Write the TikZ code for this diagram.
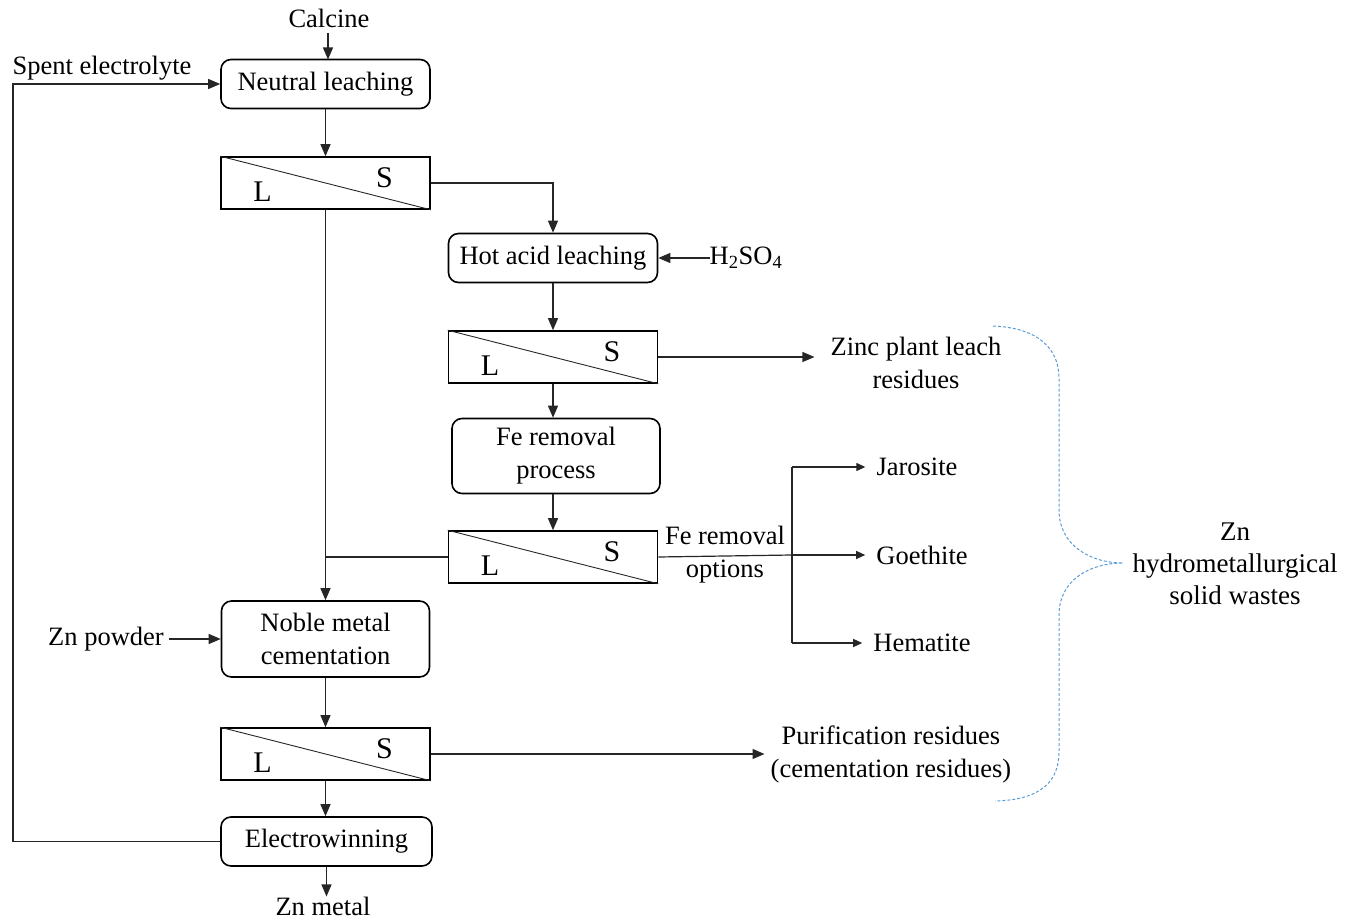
\documentclass[tikz,border=0pt]{standalone}
\usepackage{fontspec}
\setmainfont{Liberation Serif}
\usetikzlibrary{arrows.meta}
\definecolor{bracec}{RGB}{91,155,213}
\begin{document}
\begin{tikzpicture}[x=1pt,y=-1pt,
  font=\fontsize{26.5}{33}\selectfont,
  proc/.style={draw=black, line width=1.6pt, rounded corners=10pt,
    minimum width=209pt, minimum height=49pt, inner sep=0pt, align=center},
  sepbox/.style={draw=black, line width=1.6pt, minimum width=209pt,
    minimum height=52pt, inner sep=0pt},
  lbl/.style={inner sep=0pt, align=center},
  lsl/.style={inner sep=0pt, font=\fontsize{30}{33}\selectfont},
  conn/.style={line width=1.2pt, draw=black!85},
  arr/.style={conn, -{Triangle[length=12pt,width=10pt]}},
  sarr/.style={conn, -{Triangle[length=9pt,width=8pt]}},
  diag/.style={line width=0.9pt, draw=black!85}
]
\useasboundingbox (0,0) rectangle (1353,920);

% process boxes
\node[proc] (nl) at (325.5,84) {Neutral leaching};
\node[proc] (hot) at (553,258) {Hot acid leaching};
\node[proc, minimum width=208pt, minimum height=75pt] (fe) at (556,456) {Fe removal\\process};
\node[proc, minimum width=208pt, minimum height=76pt] (noble) at (325.5,639) {Noble metal\\cementation};
\node[proc, minimum width=211pt] (ew) at (326.5,841.5) {Electrowinning};

% separators
\node[sepbox] (s1) at (325.5,183) {};
\node[sepbox] (s2) at (553,357) {};
\node[sepbox] (s3) at (553,557) {};
\node[sepbox] (s4) at (325.5,754) {};
\foreach \s in {s1,s2,s3,s4}{
  \draw[diag] (\s.north west) -- (\s.south east);
  \node[lsl] (\s L) at ([shift={(-63,9)}]\s.center) {L};
  \node[lsl] (\s S) at ([shift={(59,-5)}]\s.center) {S};
}

% labels
\node[lbl] (calc) at (329,18) {Calcine};
\node[lbl] (spent) at (102,68) {Spent electrolyte};
\node[lbl] (h2so4) at (746,258) {H\textsubscript{2}SO\textsubscript{4}};
\node[lbl] (zinc) at (916,363) {Zinc plant leach\\residues};
\node[lbl] (feopt) at (725,555) {Fe removal\\options};
\node[lbl] (jar) at (917,467) {Jarosite};
\node[lbl] (goe) at (922,555) {Goethite};
\node[lbl] (hem) at (922,643) {Hematite};
\node[lbl] (znp) at (106,639) {Zn powder};
\node[lbl] (pur) at (891,754) {Purification residues\\(cementation residues)};
\node[lbl] (znm) at (323,906) {Zn metal};
\node[lbl, font=\fontsize{27}{32}\selectfont] (waste) at (1235,564) {Zn\\hydrometallurgical\\solid wastes};

% coordinates
\coordinate (lb) at (13,841.5);
\coordinate (lt) at (13,84);
\coordinate (j) at (792,555);
\coordinate (jt) at (792,467);
\coordinate (jb) at (792,643);

% connectors
\draw[arr] (calc.south -| 328,0) ++(0,5) -- (328,59.5);
\draw[arr] (ew.west) -- (lb) -- (lt) -- (nl.west);
\draw[arr] (nl) -- (s1);
\draw[arr] (s1.east) -| (hot.north);
\draw[arr] (h2so4.west) -- (hot.east);
\draw[arr] (hot) -- (s2);
\draw[arr] (s2.east) -- ([xshift=-16pt]zinc.west |- s2.east);
\draw[arr] (s2.south) -- (s2.south |- fe.north);
\draw[arr] (fe.south -| s3.north) -- (s3.north);
\draw[conn] (s3.west) -- (s3.west -| s1.south);
\draw[arr] (s1.south) -- (noble.north);
\draw[conn] (s3.east) -- (j);
\draw[conn] (jt) -- (jb);
\draw[sarr] (jt) -- ([xshift=-11pt]jar.west);
\draw[sarr] (j) -- ([xshift=-11pt]goe.west);
\draw[sarr] (jb) -- ([xshift=-11pt]hem.west);
\draw[arr] ([xshift=5pt]znp.east) -- (noble.west);
\draw[arr] (noble) -- (s4);
\draw[arr] (s4.east) -- ([xshift=-6pt]pur.west |- s4.east);
\draw[arr] (s4.south) -- (s4.south |- ew.north);
\draw[arr] (ew.south) -- (ew.south |- znm.north);

% brace
\draw[bracec, line width=1pt, dash pattern=on 3pt off 2pt]
  (993,326) .. controls (1040,328) and (1059,350) .. (1059,378)
  -- (1059,510) .. controls (1059,545) and (1090,563) .. (1123,563)
  .. controls (1090,563) and (1059,580) .. (1059,615)
  -- (1059,752) .. controls (1059,782) and (1040,800) .. (995,801);
\end{tikzpicture}
\end{document}
